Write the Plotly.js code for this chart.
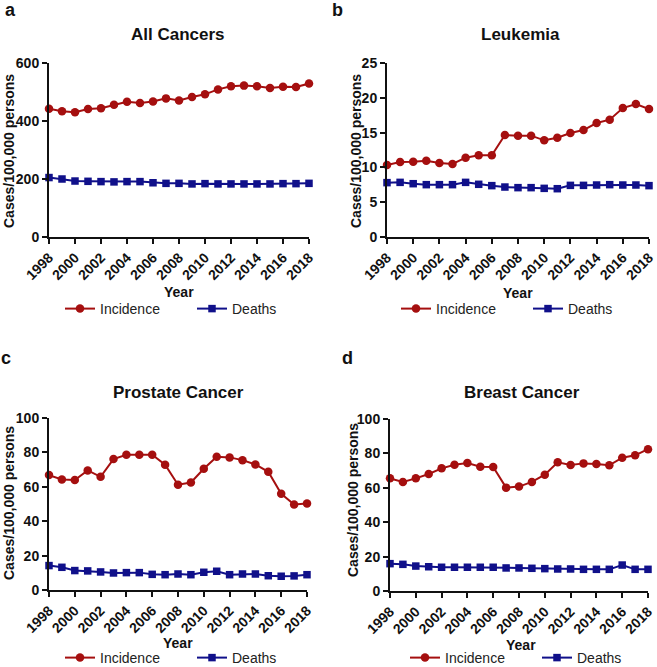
<!DOCTYPE html>
<html>
<head>
<meta charset="utf-8">
<script src="https://cdn.plot.ly/plotly-3.0.1.min.js"></script>
<style>html,body{margin:0;padding:0;background:#fff}#chart{width:657px;height:667px}</style>
</head>
<body>
<div id="chart"></div>
<script>
const years = [1998,1999,2000,2001,2002,2003,2004,2005,2006,2007,2008,2009,2010,2011,2012,2013,2014,2015,2016,2017,2018];
const tickYears = [1998,2000,2002,2004,2006,2008,2010,2012,2014,2016,2018];

const allIncidence = [442,434,430,441,444,456,466,462,467,478,471,483,492,509,520,522,520,514,518,517,529];
const allDeaths    = [205,200,193,192,191,190,191,191,187,185,185,183,184,183,183,183,183,183,184,184,185];

const leukIncidence = [10.34,10.78,10.82,10.97,10.63,10.49,11.4,11.73,11.73,14.66,14.56,14.56,13.89,14.27,14.94,15.37,16.38,16.86,18.53,19.11,18.39];
const leukDeaths    = [7.81,7.85,7.66,7.52,7.52,7.52,7.85,7.57,7.38,7.18,7.09,7.09,6.99,6.94,7.42,7.42,7.47,7.52,7.47,7.47,7.38];

const prosIncidence = [66.8,64.3,63.9,69.5,65.8,76.1,78.6,78.6,78.6,72.8,61.2,62.5,70.5,77.5,77.1,75.5,73.0,68.7,55.9,49.7,50.3];
const prosDeaths    = [14.2,13.2,11.3,11.1,10.5,9.9,10.1,10.1,9.1,8.9,9.3,8.9,10.3,10.9,8.9,9.3,9.3,8.3,8.0,8.2,8.9];

const brIncidence = [65.5,63.4,65.5,68.0,71.3,73.4,74.4,72.3,72.1,60.1,60.7,63.4,67.6,74.8,73.3,74.2,73.8,73.1,77.5,78.9,82.4];
const brDeaths    = [15.9,15.5,14.5,14.1,13.8,13.8,13.8,13.8,13.8,13.4,13.4,13.2,13.0,12.8,12.8,12.6,12.6,12.6,15.1,12.6,12.6];

const panelTitles = ["All Cancers","Leukemia","Prostate Cancer","Breast Cancer"];
const panelLetters = ["a","b","c","d"];
const seriesNames = ["Incidence","Deaths"];
const xTitle = "Year";
const yTitle = "Cases/100,000 persons";
const yRanges = [[0,600],[0,25],[0,100],[0,100]];
const yDtick = [200,5,20,20];

const RED = "#A50F0F";
const BLUE = "#10108A";
const FONT = "Liberation Sans, Arial, sans-serif";

const W = 657, H = 667;
// pixel boxes of plotting areas [x0,x1,y0(top),y1(bottom)]
const boxes = [[49,309,63,237],[387,649,63,237],[49,307,418,590],[390,648,419,591]];
const legendPos = [[60,309],[396,309],[60,658],[405,658]];
const titlePos = [[178,35],[520,35],[178,392],[522,392]];
const letterPos = [[10,10],[337,10],[6,358],[347,358]];
const yTitlePos = [[9,151],[356,151],[9,503],[353,500]];
const xTitlePos = [[179,292],[518,293],[178,643],[521,645]];

const data = [];
const incid = [allIncidence, leukIncidence, prosIncidence, brIncidence];
const deaths = [allDeaths, leukDeaths, prosDeaths, brDeaths];
const layout = {
  width: W, height: H,
  margin: {l:0, r:0, t:0, b:0, autoexpand: false},
  paper_bgcolor: "#fff", plot_bgcolor: "#fff",
  font: {family: FONT, color: "#111"},
  showlegend: true,
  annotations: []
};

function ann(text, x, y, size, angle) {
  return {text: text, x: x/W, y: 1 - y/H, xref: "paper", yref: "paper", showarrow: false,
    xanchor: "center", yanchor: "middle", textangle: angle || 0,
    font: {family: FONT, size: size, color: "#111"}};
}

for (let i = 0; i < 4; i++) {
  const sfx = i === 0 ? "" : String(i+1);
  const lg = i === 0 ? "legend" : "legend" + (i+1);
  data.push({
    x: years, y: incid[i], type: "scatter", mode: "lines+markers", name: seriesNames[0],
    xaxis: "x" + sfx, yaxis: "y" + sfx, legend: lg, cliponaxis: false,
    line: {color: RED, width: 2}, marker: {color: RED, size: 8.5, symbol: "circle"}
  });
  data.push({
    x: years, y: deaths[i], type: "scatter", mode: "lines+markers", name: seriesNames[1],
    xaxis: "x" + sfx, yaxis: "y" + sfx, legend: lg, cliponaxis: false,
    line: {color: BLUE, width: 2}, marker: {color: BLUE, size: 7.5, symbol: "square"}
  });
  const b = boxes[i];
  layout["xaxis" + sfx] = {
    domain: [b[0]/W, b[1]/W], anchor: "y" + sfx,
    range: [1998, 2018], tickmode: "array", tickvals: tickYears, ticktext: tickYears.map(String),
    tickangle: -45, ticks: "outside", ticklen: 5, tickwidth: 2, tickcolor: "#111",
    showline: true, linecolor: "#111", linewidth: 2, showgrid: false, zeroline: false,
    automargin: false, ticklabeloverflow: "allow",
    tickfont: {family: FONT, size: 14, color: "#111", weight: "bold"}
  };
  layout["yaxis" + sfx] = {
    domain: [1 - b[3]/H, 1 - b[2]/H], anchor: "x" + sfx,
    range: yRanges[i], dtick: yDtick[i], ticks: "outside", ticklen: 5, tickwidth: 2, tickcolor: "#111",
    showline: true, linecolor: "#111", linewidth: 2, showgrid: false, zeroline: false,
    automargin: false, ticklabeloverflow: "allow",
    tickfont: {family: FONT, size: 14, color: "#111", weight: "bold"}
  };
  layout[lg] = {
    orientation: "h", x: legendPos[i][0]/W, y: 1 - legendPos[i][1]/H, xanchor: "left", yanchor: "middle",
    xref: "paper", yref: "paper", entrywidth: 87, entrywidthmode: "pixels",
    font: {family: FONT, size: 14, color: "#222"}, bgcolor: "rgba(0,0,0,0)", borderwidth: 0
  };
  layout.annotations.push(ann("<b>" + panelTitles[i] + "</b>", titlePos[i][0], titlePos[i][1], 17));
  layout.annotations.push(ann("<b>" + panelLetters[i] + "</b>", letterPos[i][0], letterPos[i][1], 18));
  layout.annotations.push(ann("<b>" + yTitle + "</b>", yTitlePos[i][0], yTitlePos[i][1], 14, -90));
  layout.annotations.push(ann("<b>" + xTitle + "</b>", xTitlePos[i][0], xTitlePos[i][1], 14));
}

Plotly.newPlot("chart", data, layout, {displayModeBar: false, staticPlot: true});
</script>
</body>
</html>
